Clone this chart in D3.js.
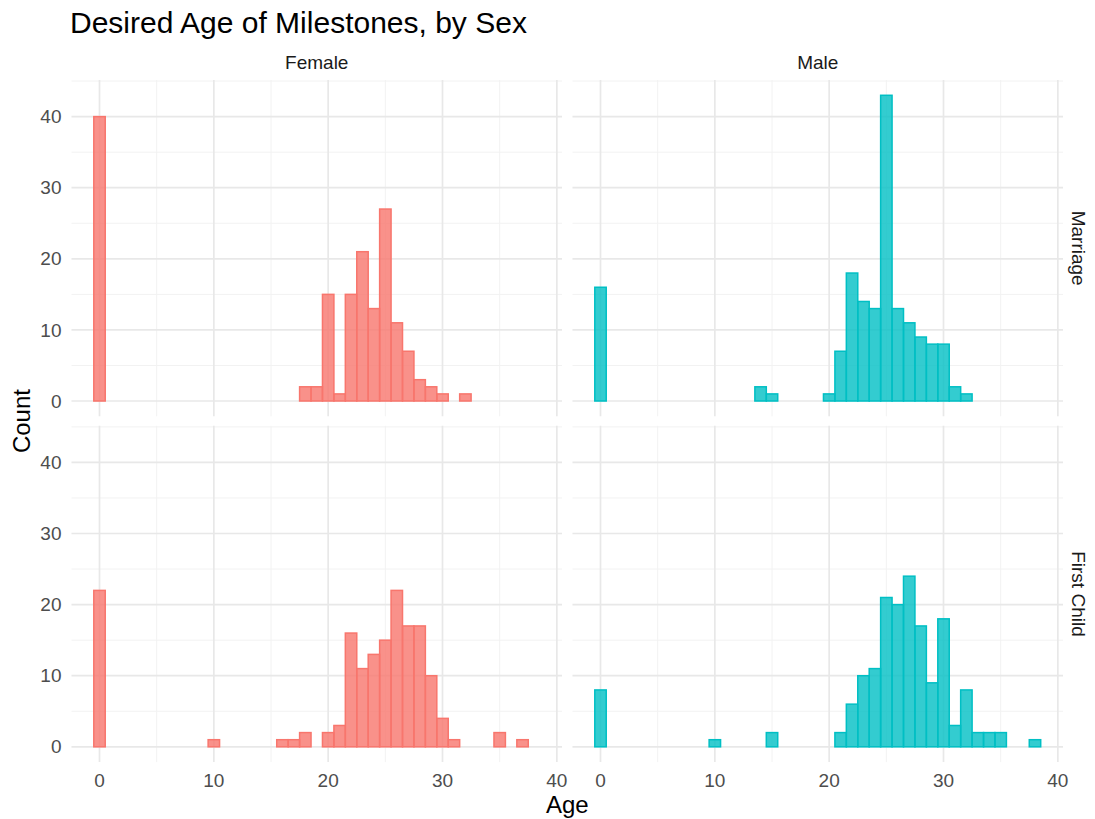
<!DOCTYPE html>
<html><head><meta charset="utf-8">
<script src="https://cdn.jsdelivr.net/npm/d3@7"></script>
<style>body{margin:0;background:#fff}svg{display:block}</style>
</head><body>
<svg id="c" width="1095" height="819"></svg>
<script>
const sexes = ["Female", "Male"];
const milestones = ["Marriage", "First Child"];
const xTicks = [0, 10, 20, 30, 40];
const yTicks = [0, 10, 20, 30, 40];

// [age, count] bins (binwidth 1, centred on integer ages)
const femaleMarriage = [[0,40],[18,2],[19,2],[20,15],[21,1],[22,15],[23,21],[24,13],[25,27],[26,11],[27,7],[28,3],[29,2],[30,1],[32,1]];
const maleMarriage = [[0,16],[14,2],[15,1],[20,1],[21,7],[22,18],[23,14],[24,13],[25,43],[26,13],[27,11],[28,9],[29,8],[30,8],[31,2],[32,1]];
const femaleFirstChild = [[0,22],[10,1],[16,1],[17,1],[18,2],[20,2],[21,3],[22,16],[23,11],[24,13],[25,15],[26,22],[27,17],[28,17],[29,10],[30,4],[31,1],[35,2],[37,1]];
const maleFirstChild = [[0,8],[10,1],[15,2],[21,2],[22,6],[23,10],[24,11],[25,21],[26,20],[27,24],[28,17],[29,9],[30,18],[31,3],[32,8],[33,2],[34,2],[35,2],[38,1]];

const panels = [
  {sex:"Female", ms:"Marriage", data:femaleMarriage},
  {sex:"Male", ms:"Marriage", data:maleMarriage},
  {sex:"Female", ms:"First Child", data:femaleFirstChild},
  {sex:"Male", ms:"First Child", data:maleFirstChild}
];
const colors = {Female:"#F8766D", Male:"#00BFC4"};

const svg = d3.select("#c");
const font = "'Liberation Sans', Arial, sans-serif";
const pw = 490.5, gapX = 10.5, left0 = 71.5;
const ph = 336.3, gapY = 9.5, top0 = 80;

const xDom = [-2.45, 40.45];
const yDom = [-2.15, 45.15];

svg.append("text").attr("x", 70).attr("y", 33).attr("font-family", font)
  .attr("font-size", 30).attr("fill", "#000").text("Desired Age of Milestones, by Sex");

panels.forEach(p => {
  const col = sexes.indexOf(p.sex), row = milestones.indexOf(p.ms);
  const x0 = left0 + col * (pw + gapX), y0 = top0 + row * (ph + gapY);
  const x = d3.scaleLinear().domain(xDom).range([x0, x0 + pw]);
  const y = d3.scaleLinear().domain(yDom).range([y0 + ph, y0]);
  const g = svg.append("g");
  const xMinor = [5, 15, 25, 35];
  const yMinor = [5, 15, 25, 35, 45];
  g.selectAll(".vm").data(xMinor).join("line")
    .attr("x1", d => x(d)).attr("x2", d => x(d)).attr("y1", y0).attr("y2", y0 + ph)
    .attr("stroke", "#f2f2f2").attr("stroke-width", 1);
  g.selectAll(".hm").data(yMinor).join("line")
    .attr("y1", d => y(d)).attr("y2", d => y(d)).attr("x1", x0).attr("x2", x0 + pw)
    .attr("stroke", "#f2f2f2").attr("stroke-width", 1);
  g.selectAll(".vM").data(xTicks).join("line")
    .attr("x1", d => x(d)).attr("x2", d => x(d)).attr("y1", y0).attr("y2", y0 + ph)
    .attr("stroke", "#e8e8e8").attr("stroke-width", 1.7);
  g.selectAll(".hM").data(yTicks).join("line")
    .attr("y1", d => y(d)).attr("y2", d => y(d)).attr("x1", x0).attr("x2", x0 + pw)
    .attr("stroke", "#e8e8e8").attr("stroke-width", 1.7);
  g.selectAll("rect").data(p.data).join("rect")
    .attr("x", d => x(d[0] - 0.5)).attr("width", d => x(d[0] + 0.5) - x(d[0] - 0.5))
    .attr("y", d => y(d[1])).attr("height", d => y(0) - y(d[1]))
    .attr("fill", colors[p.sex]).attr("fill-opacity", 0.8)
    .attr("stroke", colors[p.sex]).attr("stroke-width", 1.5);
  if (col === 0) {
    g.selectAll(".yl").data(yTicks).join("text")
      .attr("x", x0 - 10).attr("y", d => y(d)).attr("dy", "0.35em")
      .attr("text-anchor", "end").attr("font-family", font).attr("font-size", 19)
      .attr("fill", "#4d4d4d").text(d => d);
  }
  if (row === 1) {
    g.selectAll(".xl").data(xTicks).join("text")
      .attr("x", d => x(d)).attr("y", y0 + ph + 25)
      .attr("text-anchor", "middle").attr("font-family", font).attr("font-size", 19)
      .attr("fill", "#4d4d4d").text(d => d);
  }
  if (row === 0) {
    svg.append("text").attr("x", x0 + pw / 2).attr("y", 69).attr("text-anchor", "middle")
      .attr("font-family", font).attr("font-size", 19).attr("fill", "#1a1a1a").text(p.sex);
  }
  if (col === 1) {
    const cx = 1072, cy = y0 + ph / 2;
    svg.append("text").attr("transform", `translate(${cx},${cy}) rotate(90)`)
      .attr("text-anchor", "middle").attr("font-family", font).attr("font-size", 19)
      .attr("fill", "#1a1a1a").text(p.ms);
  }
});

svg.append("text").attr("transform", `translate(30,${top0 + ph + gapY / 2}) rotate(-90)`)
  .attr("text-anchor", "middle").attr("font-family", font).attr("font-size", 24)
  .attr("fill", "#000").text("Count");
svg.append("text").attr("x", left0 + pw + gapX / 2).attr("y", 813)
  .attr("text-anchor", "middle").attr("font-family", font).attr("font-size", 24)
  .attr("fill", "#000").text("Age");
</script>
</body></html>
